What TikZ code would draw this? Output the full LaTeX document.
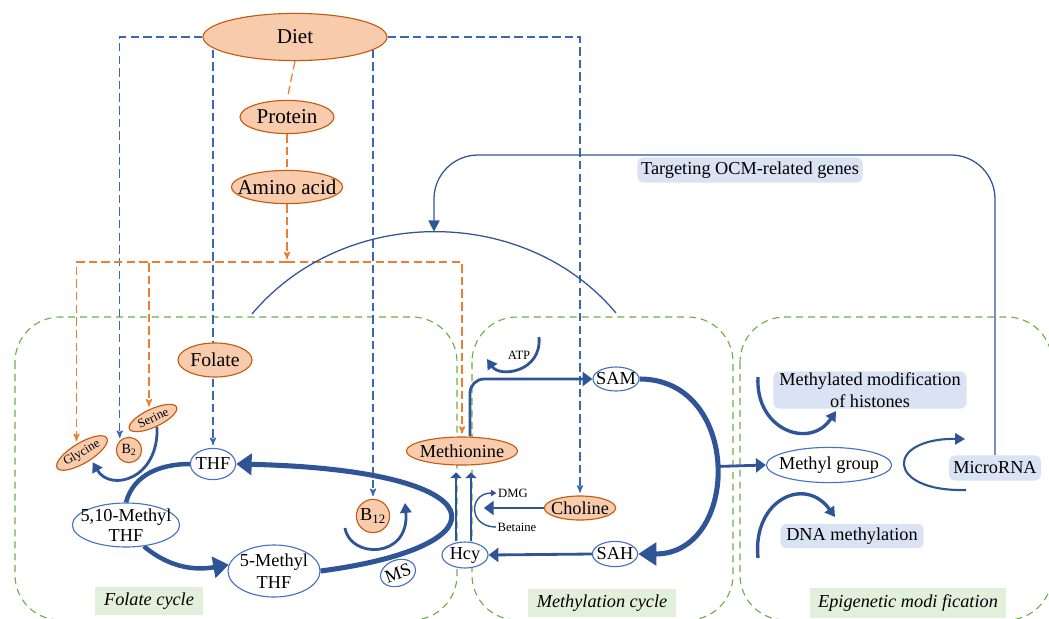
\documentclass[tikz,border=0pt]{standalone}
\usepackage{fontspec}
\setmainfont{Liberation Serif}
\usepackage{tikz}
\usetikzlibrary{arrows}
\usetikzlibrary{arrows.meta}
\usetikzlibrary{shapes.geometric}
\usetikzlibrary{backgrounds}

\definecolor{peach}{HTML}{F8CBAD}
\definecolor{rust}{HTML}{C55A11}
\definecolor{tangerine}{HTML}{ED7D31}
\definecolor{navy}{HTML}{2F5597}
\definecolor{steel}{HTML}{4472C4}
\definecolor{feedblue}{HTML}{3A68B5}
\definecolor{leaf}{HTML}{70AD47}
\definecolor{mint}{HTML}{E2EFDA}
\definecolor{ice}{HTML}{DAE3F3}

\begin{document}
\begin{tikzpicture}[x=0.025cm,y=-0.025cm,>=stealth',font=\fontsize{13}{15}\selectfont,
                    food node/.style={ellipse,draw=rust,fill=peach,line width=0.8pt,inner xsep=-40pt,inner ysep=-2pt},
                    met node/.style={ellipse,draw=steel,fill=white,line width=0.8pt,inner xsep=-40pt,inner ysep=-2pt},
                    big/.style={font=\fontsize{15}{17}\selectfont},
                    wee/.style={font=\fontsize{9}{10}\selectfont,inner sep=1pt},
                    tag node/.style={fill=ice,rounded corners=4pt,inner sep=0pt},
                    cycle tag/.style={fill=mint,inner sep=0pt,font=\fontsize{13}{15}\selectfont\itshape},
                    cycle box/.style={draw=leaf,line width=0.8pt,dash pattern=on 5pt off 3.5pt,rounded corners=1.125cm},
                    feed/.style={->,draw=feedblue,line width=0.9pt,dash pattern=on 6pt off 3pt,shorten >=2pt},
                    amino feed/.style={->,draw=tangerine,line width=0.9pt,dash pattern=on 6pt off 3pt,shorten >=2pt},
                    flow/.style={draw=navy,line width=2pt,-{Triangle[length=7pt,width=10pt]}},
                    up flow/.style={draw=navy,line width=1.6pt,-{Triangle[length=4pt,width=8pt]}},
                    heavy/.style={draw=navy,line width=3.2pt,-{Triangle[length=11pt,width=15pt]}},
                    curl/.style={draw=navy,line width=2pt,-{Triangle[length=7pt,width=8pt]}},
                    thin curl/.style={draw=navy,line width=1pt,-{Triangle[length=4pt,width=4.5pt]}},
                    link/.style={draw=navy,line width=0.9pt}]

  \useasboundingbox (0,0) rectangle (1049,618);

  \node[food node,big,minimum width=4.6cm,minimum height=1.18cm] (diet) at (295,37) {Diet};
  \node[food node,big,minimum width=2.35cm,minimum height=0.83cm] (protein) at (287,117) {Protein};
  \node[food node,big,minimum width=2.78cm,minimum height=0.83cm] (amino) at (287,187) {Amino acid};
  \node[food node,font=\fontsize{14}{16}\selectfont,minimum width=1.85cm,minimum height=0.85cm] (folate) at (215,360) {Folate};
  \node[food node,wee,rotate=31,minimum width=1.45cm,minimum height=0.45cm,inner xsep=-40pt] (glycine) at (82,453) {Glycine};
  \node[food node,wee,rotate=25,minimum width=1.3cm,minimum height=0.45cm,inner xsep=-40pt] (serine) at (153,418) {Serine};
  \node[food node,circle,font=\fontsize{10}{12}\selectfont,inner sep=0pt,minimum size=0.63cm] (b2) at (129,450) {B\textsubscript{2}};
  \node[met node,minimum width=1.13cm,minimum height=0.78cm] (thf) at (213,464) {THF};
  \node[met node,align=center,font=\fontsize{13}{14}\selectfont,inner ysep=-3pt,minimum width=2.68cm,minimum height=1.1cm] (m510) at (126,525) {5,10-Methyl\\THF};
  \node[met node,align=center,font=\fontsize{13}{16}\selectfont,inner ysep=-3pt,minimum width=2.3cm,minimum height=1.3cm] (m5) at (274,571) {5-Methyl\\THF};
  \node[met node,rotate=20,minimum width=0.9cm,minimum height=0.65cm] (ms) at (398,573) {MS};
  \node[food node,circle,inner sep=0pt,minimum size=0.83cm] (b12) at (373,516) {B\textsubscript{12}};

  \node[food node,minimum width=2.78cm,minimum height=0.7cm] (methionine) at (462,451) {Methionine};
  \node[met node,minimum width=1.15cm,minimum height=0.65cm] (hcy) at (465,555) {Hcy};
  \node[met node,minimum width=1.15cm,minimum height=0.6cm] (sam) at (616,379) {SAM};
  \node[met node,minimum width=1.13cm,minimum height=0.63cm] (sah) at (615,554) {SAH};
  \node[food node,minimum width=1.78cm,minimum height=0.6cm] (choline) at (580,508) {Choline};
  \node[wee] (atp) at (519,355) {ATP};
  \node[wee] (dmg) at (513,493) {DMG};
  \node[wee] (betaine) at (517,527) {Betaine};

  \node[met node,minimum width=3.13cm,minimum height=0.88cm] (methyl) at (829,465) {Methyl group};
  \node[tag node,align=center,font=\fontsize{13}{16}\selectfont,minimum width=4.83cm,minimum height=0.93cm] (histone) at (870,390) {Methylated modification\\of histones};
  \node[tag node,minimum width=3.58cm,minimum height=0.6cm] (dna) at (852,536) {DNA methylation};
  \node[tag node,minimum width=2.3cm,minimum height=0.63cm] (micro) at (995,468) {MicroRNA};
  \node[tag node,minimum width=5.63cm,minimum height=0.63cm] (genes) at (750,170) {Targeting OCM-related genes};

  \node[cycle tag,minimum width=2.7cm,minimum height=0.7cm] (folate cycle) at (149,601) {Folate cycle};
  \node[cycle tag,minimum width=3.7cm,minimum height=0.7cm] (methylation cycle) at (602,603) {Methylation cycle};
  \node[cycle tag,minimum width=4.9cm,minimum height=0.75cm] (epigenetic) at (908,603) {Epigenetic modi fication};

  \coordinate (aa hub) at (287,262);
  \coordinate (ocm left) at (252,314);
  \coordinate (ocm right) at (616,313);
  \coordinate (gene line) at (750,155);

  \begin{pgfonlayer}{background}
    \draw[cycle box] (15,317) rectangle (457,620);
    \draw[cycle box] (472,317) rectangle (733,620);
    \draw[cycle box] (740,317) rectangle (1052,620);

    \draw[feed] (diet.west) -| (b2.north west);
    \draw[feed] (thf |- diet) -- (thf.north);
    \draw[feed] (b12 |- diet) -- (b12.north);
    \draw[feed] (diet.east) -| (choline.north);

    \draw[amino feed,-] (diet.south) -- (protein.north);
    \draw[amino feed,-] (protein.south) -- (amino.north);
    \draw[amino feed] (amino.south) -- (aa hub);
    \draw[amino feed] (aa hub) -| (glycine.north);
    \draw[amino feed] (aa hub) -| (serine.north);
    \draw[amino feed] (aa hub) -| (methionine.north);

    \draw[link] (ocm left) to[out=50,in=130] coordinate[pos=0.5] (ocm top) (ocm right);
    \draw[link,-{Triangle[length=8pt,width=8pt]},rounded corners=1.1cm]
      (micro.north) -- (micro.north |- gene line) -| (ocm top);

    \draw[heavy,-] (m510.north) to[out=75,in=180] (thf.west);
    \draw[heavy] (m510.-50) to[out=-40,in=190] (m5.172);
    \draw[heavy,line width=3.6pt] (m5.east) .. controls +(190,-25) and +(264,6) .. (thf.east);
    \draw[curl] ([shift={(-28,12)}]b12.center) .. controls +(5,31) and +(5,56) .. ([shift={(32,-13)}]b12.center);
    \draw[curl] (serine.south) .. controls +(2,53) and +(18,30) .. ([shift={(5,0)}]glycine.south);

    \draw[flow,rounded corners=10pt] ([shift={(8,0)}]methionine.north) |- (sam.west);
    \draw[curl] ([shift={(20,-18)}]atp.center) .. controls +(3,35) and +(13,19) .. ([shift={(-32,4)}]atp.center);
    \draw[heavy,line width=3.6pt,-{Triangle[length=13pt,width=16pt]}] (sam.east) to[out=0,in=0,looseness=1.5] coordinate[pos=0.5] (cycle mid) (sah.east);
    \draw[flow] (sah.west) -- (hcy.east);
    \draw[up flow] ([shift={(-9,0)}]hcy.north) -- ++(0,-69);
    \draw[up flow] ([shift={(6,0)}]hcy.north) -- ++(0,-69);
    \draw[flow] (choline.west) -- ++(-60,0);
    \draw[thin curl] (betaine.west) .. controls +(-28,0) and +(-28,0) .. (dmg.west);

    \draw[flow] (cycle mid) -- (methyl.west);
    \draw[curl,line width=2.4pt] ([shift={(-112,-13)}]histone.center) .. controls +(-3,53) and +(-26,39) .. ([shift={(-34,21)}]histone.center);
    \draw[curl,line width=2.4pt] ([shift={(-94,22)}]dna.center) .. controls +(-6,-58) and +(-30,-42) .. ([shift={(-17,-19)}]dna.center);
    \draw[curl,line width=1.5pt] ([shift={(-29,22)}]micro.center) .. controls +(-81,2) and +(-80,-1) .. ([shift={(-30,-29)}]micro.center);
  \end{pgfonlayer}

\end{tikzpicture}
\end{document}
